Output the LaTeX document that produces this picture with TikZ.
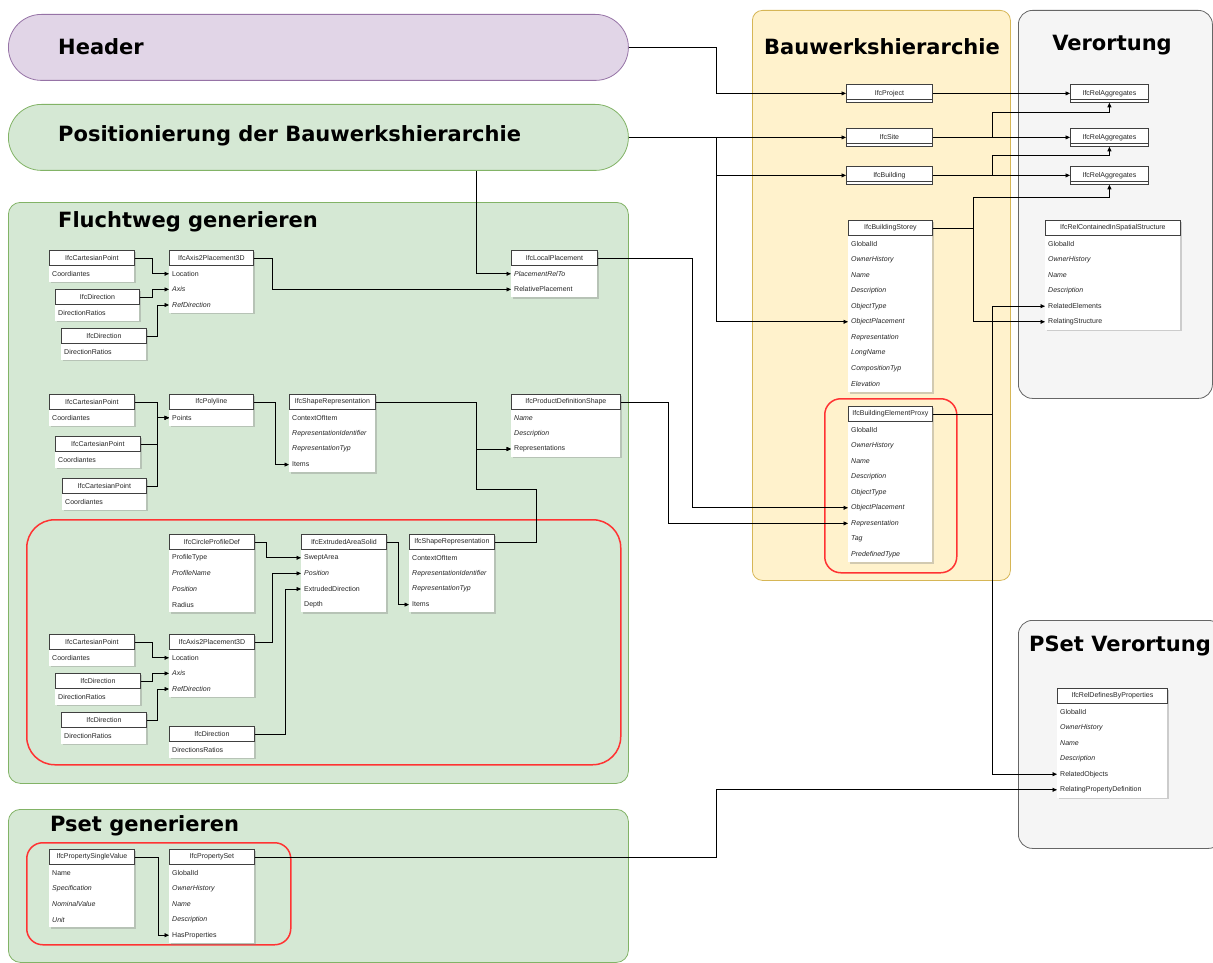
\documentclass[tikz,border=0pt]{standalone}
\usepackage{fontspec}
\setmainfont{Liberation Sans}
\newfontfamily\titlef{DejaVu Sans}
\usetikzlibrary{arrows.meta,shadows,calc}
\definecolor{purplefill}{HTML}{E1D5E7}
\definecolor{purpleline}{HTML}{9673A6}
\definecolor{greenfill}{HTML}{D5E8D4}
\definecolor{greenline}{HTML}{82B366}
\definecolor{yellowfill}{HTML}{FFF2CC}
\definecolor{yellowline}{HTML}{D6B656}
\definecolor{grayfill}{HTML}{F5F5F5}
\definecolor{grayline}{HTML}{666666}
\definecolor{redline}{HTML}{FF3333}
\tikzset{
  hdr/.style={draw=black!75, line width=0.8pt, fill=white, minimum height=15pt, inner sep=0pt, font=\fontsize{7}{8}\selectfont, text=black!85},
  rowtxt/.style={inner xsep=3pt, inner ysep=1pt, font=\fontsize{7}{8}\selectfont, text=black!85},
  body/.style={fill=white, drop shadow={shadow xshift=1.5pt, shadow yshift=-1.5pt, opacity=0.35}},
  conn/.style={draw=black, line width=0.7pt, -{Triangle[length=4.5pt,width=4pt]}},
  cont/.style={draw, line width=0.8pt, anchor=north west, inner sep=0pt},
  ttl/.style={font=\titlef\bfseries\fontsize{21}{24}\selectfont, inner sep=0pt},
  redgrp/.style={draw=redline, line width=1.5pt, anchor=north west, inner sep=0pt}
}
\newcommand\ifctab[7]{%
  \path[body] (#2,#3) rectangle ++(#4,{16+#5*15.6});
  \node[hdr, minimum width=#4pt, anchor=north west] (#1) at (#2,#3) {#6};
  \foreach \rowtext [count=\ri] in {#7} {%
    \node[rowtxt, anchor=west] (#1-\ri) at (#2,{#3+23.8+(\ri-1)*15.6}) {\rowtext};
  }%
}
\newcommand\ifcbox[5]{%
  \node[hdr, minimum width=#4pt, minimum height=18pt, anchor=north west] (#1) at (#2,#3) {#5};
  \draw[line width=0.8pt, black!75] ([yshift=3pt]#1.south west) -- ([yshift=3pt]#1.south east);
}
\begin{document}
\begin{tikzpicture}[x=1pt,y=-1pt]
\useasboundingbox (0,0) rectangle (1213,963);
\clip (0,0) rectangle (1213,963);
% containers
\node[cont, fill=purplefill, draw=purpleline, rounded corners=33pt, minimum width=620pt, minimum height=66pt] (hdrC) at (8,14) {};
\node[cont, fill=greenfill, draw=greenline, rounded corners=33pt, minimum width=620pt, minimum height=66pt] (posC) at (8,104) {};
\node[cont, fill=greenfill, draw=greenline, rounded corners=12pt, minimum width=620pt, minimum height=581pt] (fluC) at (8,202) {};
\node[cont, fill=greenfill, draw=greenline, rounded corners=12pt, minimum width=620pt, minimum height=153pt] (psetC) at (8,809) {};
\node[cont, fill=yellowfill, draw=yellowline, rounded corners=10pt, minimum width=258pt, minimum height=570pt] (bauC) at (752,10) {};
\node[cont, fill=grayfill, draw=grayline, rounded corners=14pt, minimum width=194pt, minimum height=388pt] (verC) at (1018,10) {};
\node[cont, fill=grayfill, draw=grayline, rounded corners=14pt, minimum width=204pt, minimum height=228pt] (psvC) at (1018,620) {};
% titles
\node[ttl, anchor=west] (tHeader) at (58,47) {Header};
\node[ttl, anchor=west] (tPos) at (58,136) {Positionierung der Bauwerkshierarchie};
\node[ttl, anchor=west] (tFlu) at (58,222) {Fluchtweg generieren};
\node[ttl, anchor=west] (tPset) at (50,826) {Pset generieren};
\node[ttl] (tBau) at (882,47) {Bauwerkshierarchie};
\node[ttl] (tVer) at (1112,45) {Verortung};
\node[ttl] (tPsv) at (1120,646) {PSet Verortung};
% red groups
\node[redgrp, rounded corners=28pt, minimum width=594pt, minimum height=245pt] (rg1) at (26,519) {};
\node[redgrp, rounded corners=16pt, minimum width=264pt, minimum height=102pt] (rg2) at (26,842) {};
\node[redgrp, rounded corners=16pt, minimum width=132pt, minimum height=174pt] (rg3) at (824,398) {};
% Fluchtweg part 1
\ifctab{cp1}{49}{250}{85}{1}{IfcCartesianPoint}{Coordiantes}
\ifctab{ax1}{169}{250}{84}{3}{IfcAxis2Placement3D}{Location,{\itshape Axis},{\itshape RefDirection}}
\ifctab{d1}{55}{289}{84}{1}{IfcDirection}{DirectionRatios}
\ifctab{d2}{61}{328}{85}{1}{IfcDirection}{DirectionRatios}
\ifctab{lp}{511}{250}{86}{2}{IfcLocalPlacement}{{\itshape PlacementRelTo},RelativePlacement}
% Fluchtweg part 2
\ifctab{cpA}{49}{394}{85}{1}{IfcCartesianPoint}{Coordiantes}
\ifctab{cpB}{55}{436}{85}{1}{IfcCartesianPoint}{Coordiantes}
\ifctab{cpC}{62}{478}{84}{1}{IfcCartesianPoint}{Coordiantes}
\ifctab{pl}{169}{394}{84}{1}{IfcPolyline}{Points}
\ifctab{sr1}{289}{394}{86}{4}{IfcShapeRepresentation}{ContextOfItem,{\itshape RepresentationIdentifier},{\itshape RepresentationTyp},Items}
\ifctab{pds}{511}{394}{109}{3}{IfcProductDefinitionShape}{{\itshape Name},{\itshape Description},Representations}
% red group 1
\ifctab{cpd}{169}{534}{85}{4}{IfcCircleProfileDef}{ProfileType,{\itshape ProfileName},{\itshape Position},Radius}
\ifctab{eas}{301}{534}{85}{4}{IfcExtrudedAreaSolid}{SweptArea,{\itshape Position},ExtrudedDirection,Depth}
\ifctab{sr2}{409}{534}{85}{4}{IfcShapeRepresentation}{ContextOfItem,{\itshape RepresentationIdentifier},{\itshape RepresentationTyp},Items}
\ifctab{cp2}{49}{634}{85}{1}{IfcCartesianPoint}{Coordiantes}
\ifctab{ax2}{169}{634}{85}{3}{IfcAxis2Placement3D}{Location,{\itshape Axis},{\itshape RefDirection}}
\ifctab{d3}{55}{673}{85}{1}{IfcDirection}{DirectionRatios}
\ifctab{d4}{61}{712}{85}{1}{IfcDirection}{DirectionRatios}
\ifctab{d5}{169}{726}{85}{1}{IfcDirection}{DirectionsRatios}
% Pset
\ifctab{psv}{49}{849}{85}{4}{IfcPropertySingleValue}{Name,{\itshape Specification},{\itshape NominalValue},{\itshape Unit}}
\ifctab{ps}{169}{849}{85}{5}{IfcPropertySet}{GlobalId,{\itshape OwnerHistory},{\itshape Name},{\itshape Description},HasProperties}
% Bauwerkshierarchie
\ifcbox{proj}{846}{84}{86}{IfcProject}
\ifcbox{site}{846}{128}{86}{IfcSite}
\ifcbox{bld}{846}{166}{86}{IfcBuilding}
\ifcbox{ra1}{1070}{84}{78}{IfcRelAggregates}
\ifcbox{ra2}{1070}{128}{78}{IfcRelAggregates}
\ifcbox{ra3}{1070}{166}{78}{IfcRelAggregates}
\ifctab{bs}{848}{220}{84}{10}{IfcBuildingStorey}{GlobalId,{\itshape OwnerHistory},{\itshape Name},{\itshape Description},{\itshape ObjectType},{\itshape ObjectPlacement},{\itshape Representation},{\itshape LongName},{\itshape CompositionTyp},{\itshape Elevation}}
\ifctab{px}{848}{406}{84}{9}{IfcBuildingElementProxy}{GlobalId,{\itshape OwnerHistory},{\itshape Name},{\itshape Description},{\itshape ObjectType},{\itshape ObjectPlacement},{\itshape Representation},{\itshape Tag},{\itshape PredefinedType}}
\ifctab{rc}{1045}{220}{135}{6}{IfcRelContainedInSpatialStructure}{GlobalId,{\itshape OwnerHistory},{\itshape Name},{\itshape Description},RelatedElements,RelatingStructure}
\ifctab{rd}{1057}{688}{110}{6}{IfcRelDefinesByProperties}{GlobalId,{\itshape OwnerHistory},{\itshape Name},{\itshape Description},RelatedObjects,RelatingPropertyDefinition}
% connectors: header / positioning
\draw[conn] (hdrC.east) -- ++(88,0) |- (proj.west);
\draw[conn] (posC.east) -- (site.west);
\draw[conn] (posC.east) -- ++(88,0) |- (bld.west);
\draw[conn] (posC.east) -- ++(88,0) |- (bs-6.west);
\draw[conn] ([xshift=158pt]posC.south) |- (lp-1.west);
% Fluchtweg 1
\draw[conn] (cp1.east) -- ++(18,0) |- (ax1-1.west);
\draw[conn] (d1.east) -- ++(13,0) |- (ax1-2.west);
\draw[conn] (d2.east) -- ++(11,0) |- (ax1-3.west);
\draw[conn] (ax1.east) -- ++(19,0) |- (lp-2.west);
\draw[conn] (lp.east) -- ++(95,0) |- (px-6.west);
% Fluchtweg 2
\draw[conn] (cpA.east) -- ++(23,0) |- (pl-1.west);
\draw[conn] (cpB.east) -- ++(17,0) |- (pl-1.west);
\draw[conn] (cpC.east) -- ++(11,0) |- (pl-1.west);
\draw[conn] (pl.east) -- ++(22,0) |- (sr1-4.west);
\draw[conn] (sr1.east) -- ++(101,0) |- (pds-3.west);
\coordinate (j1) at (476,489);
\draw[conn] (sr2.east) -- ++(42,0) |- (j1) |- (pds-3.west);
\draw[conn] (pds.east) -- ++(48,0) |- (px-7.west);
% red group 1
\draw[conn] (cpd.east) -- ++(12,0) |- (eas-1.west);
\draw[conn] (ax2.east) -- ++(18,0) |- (eas-2.west);
\draw[conn] (d5.east) -- ++(31,0) |- (eas-3.west);
\draw[conn] (eas.east) -- ++(12,0) |- (sr2-4.west);
\draw[conn] (cp2.east) -- ++(18,0) |- (ax2-1.west);
\draw[conn] (d3.east) -- ++(12,0) |- (ax2-2.west);
\draw[conn] (d4.east) -- ++(11,0) |- (ax2-3.west);
% Pset
\draw[conn] (psv.east) -- ++(24,0) |- (ps-5.west);
\draw[conn] (ps.east) -- ++(462,0) |- (rd-6.west);
% Bauwerkshierarchie
\draw[conn] (proj.east) -- (ra1.west);
\draw[conn] (site.east) -- (ra2.west);
\draw[conn] (bld.east) -- (ra3.west);
\draw[conn] (site.east) -- ++(60,0) |- ([yshift=-10pt]ra1.south) -- (ra1.south);
\draw[conn] (bld.east) -- ++(60,0) |- ([yshift=-9pt]ra2.south) -- (ra2.south);
\draw[conn] (bs.east) -- ++(41,0) |- ([yshift=-13pt]ra3.south) -- (ra3.south);
\draw[conn] (bs.east) -- ++(41,0) |- (rc-6.west);
\draw[conn] (px.east) -- ++(60,0) |- (rc-5.west);
\draw[conn] (px.east) -- ++(60,0) |- (rd-5.west);
\end{tikzpicture}
\end{document}
